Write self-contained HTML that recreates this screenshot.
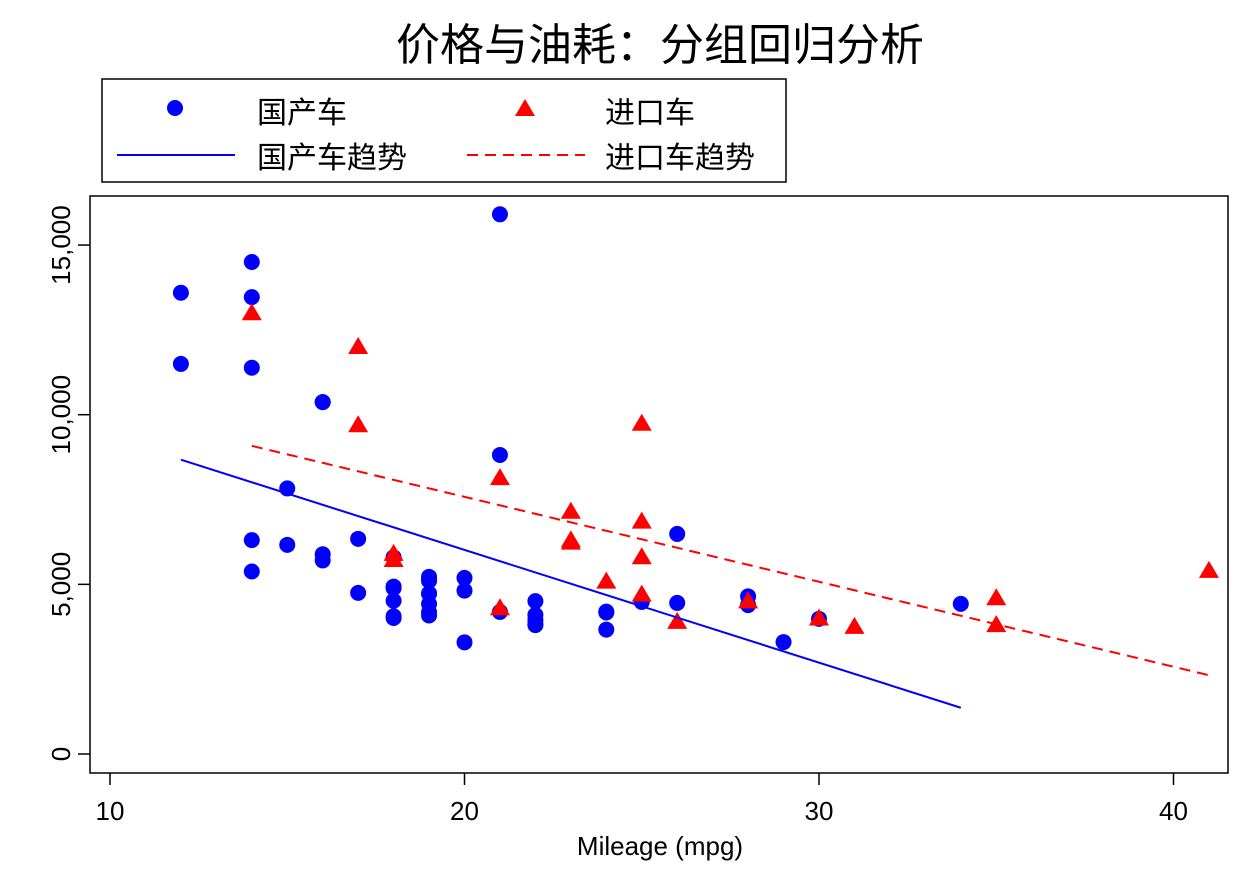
<!DOCTYPE html>
<html><head><meta charset="utf-8"><style>
body{margin:0;background:#fff;}
svg text{font-family:"Liberation Sans","Noto Sans CJK SC",sans-serif;}
</style></head><body>
<svg id="chart" width="1249" height="874" xmlns="http://www.w3.org/2000/svg">
<rect width="1249" height="874" fill="#fff"/>
<text x="660" y="60" font-size="44" text-anchor="middle">价格与油耗：分组回归分析</text>
<g>
<rect x="102" y="79" width="684" height="103" fill="#fff" stroke="#000" stroke-width="1.5"/>
<circle cx="175" cy="108" r="8" fill="#0000ff"/>
<text x="257" y="123" font-size="30">国产车</text>
<polygon points="525,99 535,116 515,116" fill="#ff0000"/>
<text x="605" y="123" font-size="30">进口车</text>
<line x1="117" y1="155" x2="235" y2="155" stroke="#0000ff" stroke-width="2"/>
<text x="257" y="168" font-size="30">国产车趋势</text>
<line x1="467" y1="155" x2="585" y2="155" stroke="#ff0000" stroke-width="2" stroke-dasharray="11,7"/>
<text x="605" y="168" font-size="30">进口车趋势</text>
</g>
<rect x="90" y="196" width="1138" height="577" fill="none" stroke="#000" stroke-width="1.5"/>
<g id="axes"></g>
<g id="marks"></g>
<text x="660" y="855" font-size="26" text-anchor="middle">Mileage (mpg)</text>
</svg>
<script>
const domMpg=[22,17,22,20,15,18,26,20,16,19,14,14,21,29,16,22,19,24,22,30,18,16,17,28,21,12,12,14,22,14,15,18,14,20,21,19,19,18,19,24,16,28,34,25,26,18,18,18,19,19,19,24];
const domPrice=[4099,4749,3799,4816,7827,5788,4453,5189,10372,4082,11385,14500,15906,3299,5705,4504,5104,3667,3955,3984,4010,5886,6342,4389,4187,11497,13594,13466,3829,5379,6165,4516,6303,3291,8814,5172,4733,4890,4181,4195,10371,4647,4425,4482,6486,4060,5798,4934,5222,4723,4424,4172];
const forMpg=[17,23,25,23,35,24,21,21,25,28,30,14,26,35,18,31,18,23,41,25,25,17];
const forPrice=[9690,6295,9735,6229,4589,5079,8129,4296,5799,4499,3995,12990,3895,3798,5899,3748,5719,7140,5397,4697,6850,11995];
const xTicks=[10,20,30,40];
const yTicks=[0,5000,10000,15000];
const NS="http://www.w3.org/2000/svg";
const sx=v=>110+(v-10)*35.45;
const sy=v=>754-v*0.03393;
const axes=document.getElementById('axes'),marks=document.getElementById('marks');
function mk(t,a,p){const e=document.createElementNS(NS,t);for(const k in a)e.setAttribute(k,a[k]);p.appendChild(e);return e;}
xTicks.forEach(t=>{
 const l=mk('line',{x1:sx(t),x2:sx(t),y1:773,y2:785,stroke:'#000','stroke-width':1.5},axes);
 
 
 const tx=mk('text',{x:sx(t),y:820,'font-size':26,'text-anchor':'middle'},axes);tx.textContent=t;
 
 
});
yTicks.forEach(t=>{
 const l=mk('line',{x1:78,x2:90,y1:sy(t),y2:sy(t),stroke:'#000','stroke-width':1.5},axes);
 
 
 const tx=mk('text',{x:0,y:0,'font-size':26,'text-anchor':'middle',transform:`translate(70,${sy(t)}) rotate(-90)`},axes);
 tx.textContent=t.toLocaleString('en-US');
 
 
});
function ols(x,y){const n=x.length;const mx=x.reduce((a,b)=>a+b)/n,my=y.reduce((a,b)=>a+b)/n;let sxy=0,sxx=0;for(let i=0;i<n;i++){sxy+=(x[i]-mx)*(y[i]-my);sxx+=(x[i]-mx)**2;}const b=sxy/sxx;return [my-b*mx,b];}
domMpg.forEach((m,i)=>{const c=mk('circle',{cx:sx(m),cy:sy(domPrice[i]),r:8,fill:'#0000ff'},marks);
 
 });
forMpg.forEach((m,i)=>{const x=sx(m),y=sy(forPrice[i]);const p=mk('polygon',{points:`${x},${y-10} ${x+10},${y+7} ${x-10},${y+7}`,fill:'#ff0000'},marks);
 
 });
function fit(x,y,col,dash,name){const [a,b]=ols(x,y);const x0=Math.min(...x),x1=Math.max(...x);
 const l=mk('line',{x1:sx(x0),y1:sy(a+b*x0),x2:sx(x1),y2:sy(a+b*x1),stroke:col,'stroke-width':2},marks);
 if(dash)l.setAttribute('stroke-dasharray',dash);
 
 }
fit(domMpg,domPrice,'#0000ff',null,'domestic-trend-line');
fit(forMpg,forPrice,'#ff0000','11,7','foreign-trend-line');
</script>
</body></html>
